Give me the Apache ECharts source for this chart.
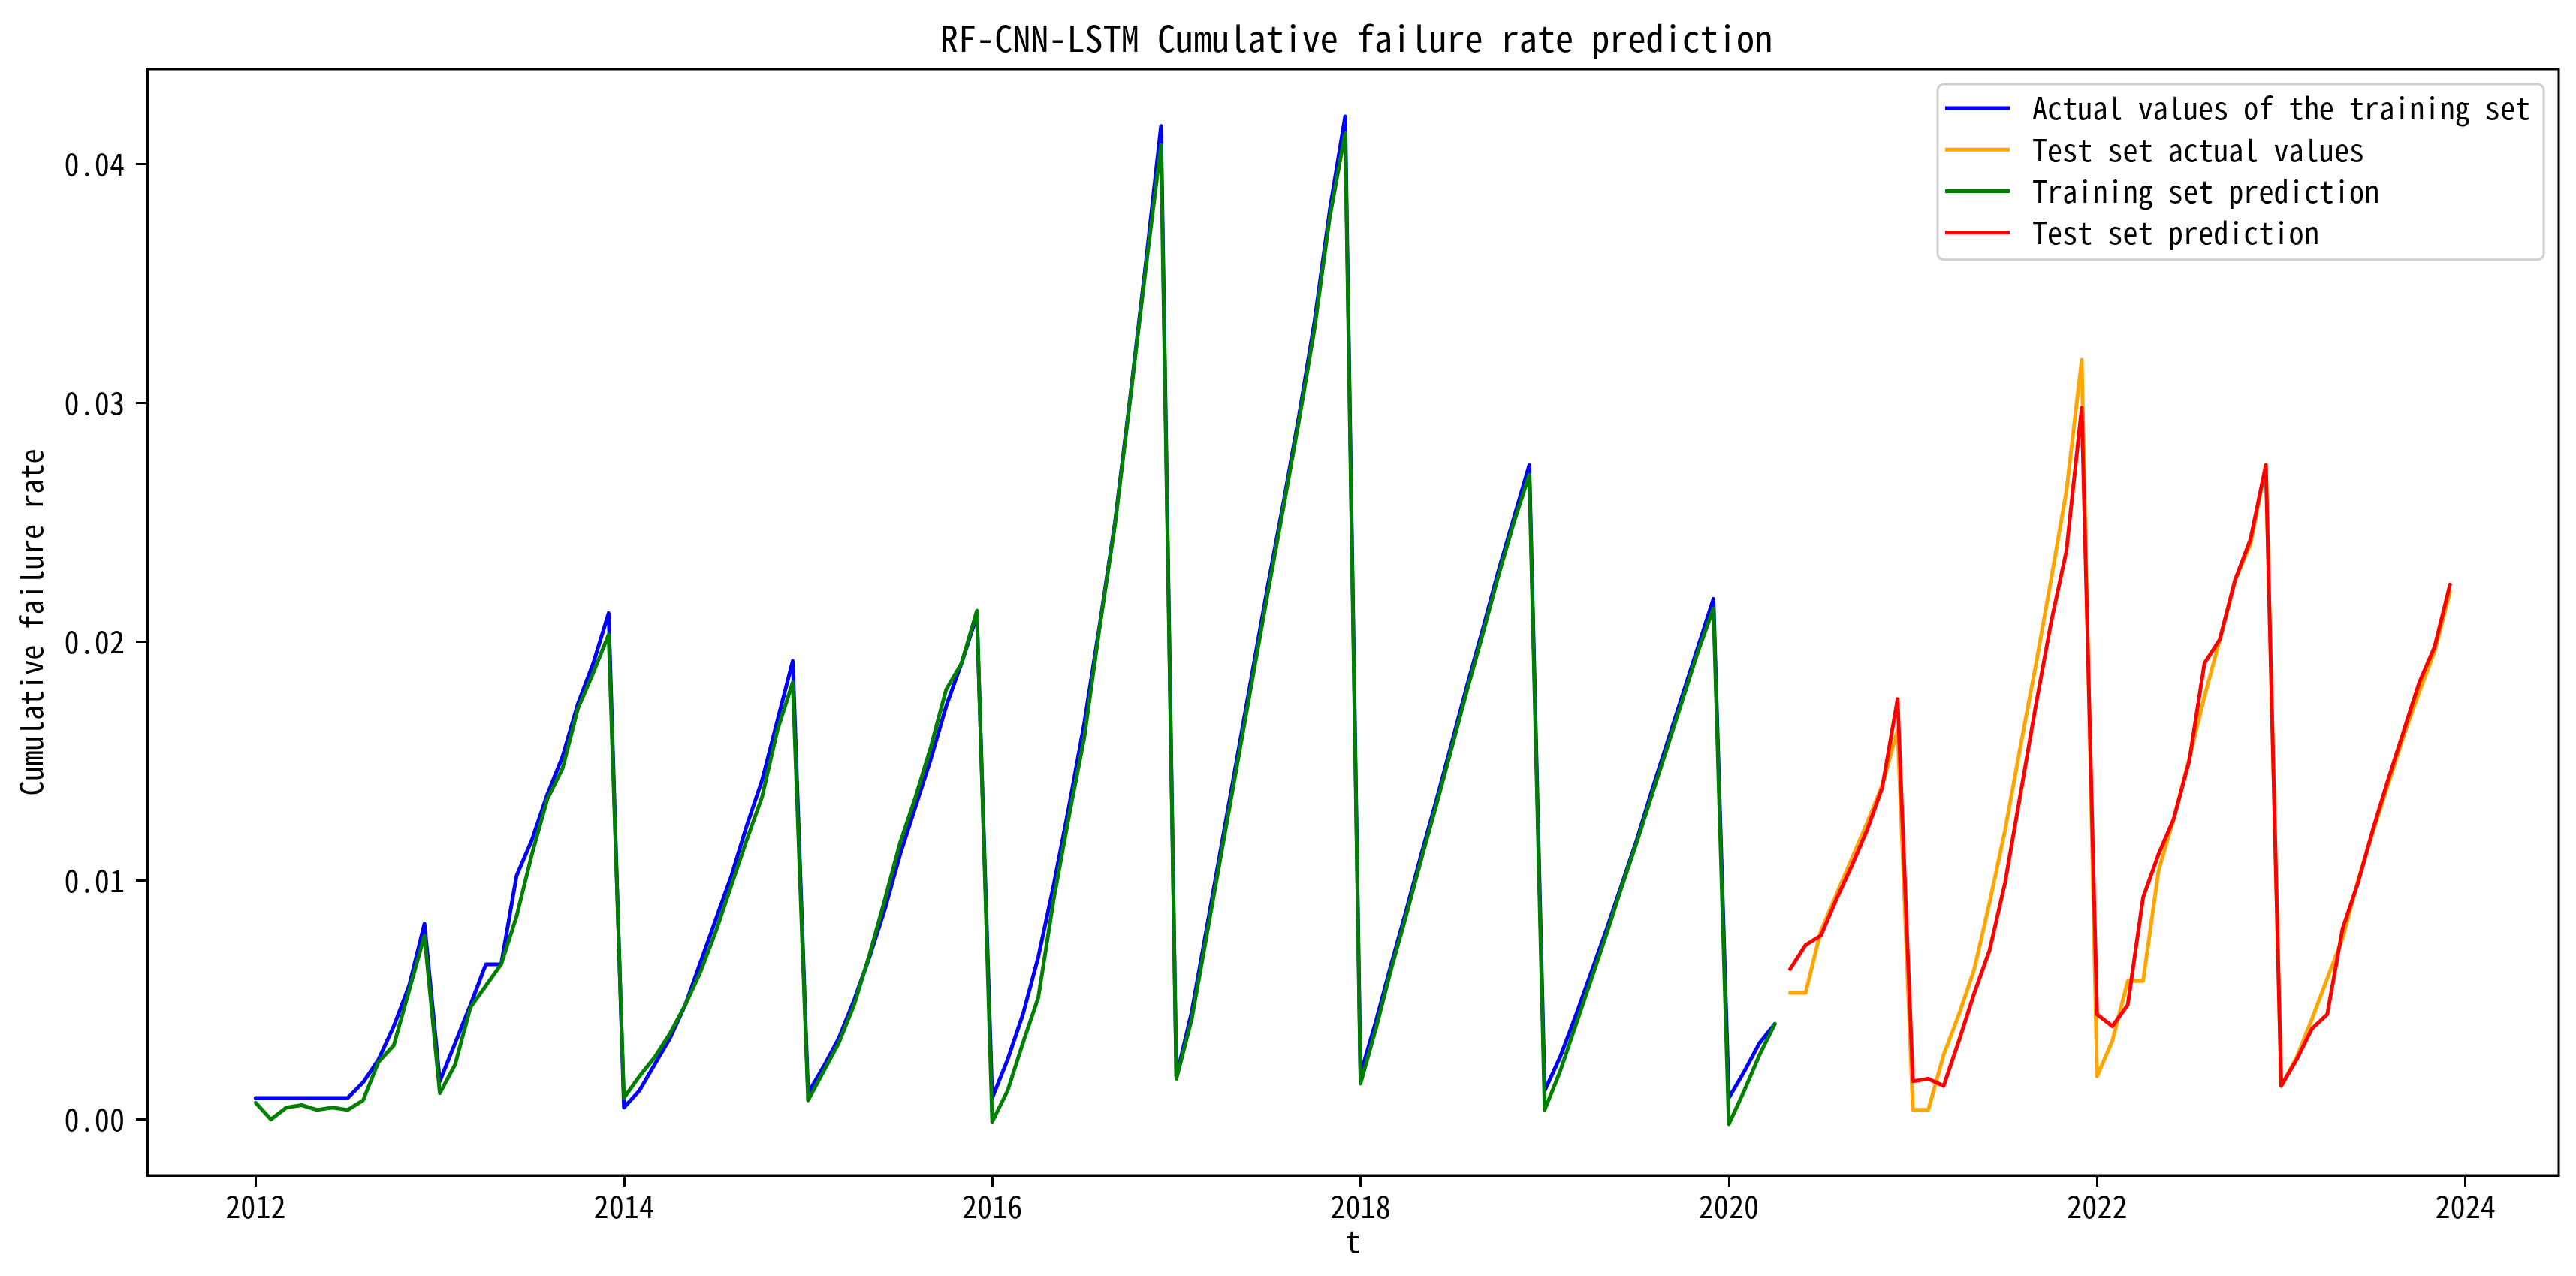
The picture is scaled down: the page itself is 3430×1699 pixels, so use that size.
<!DOCTYPE html>
<html><head><meta charset="utf-8">
<script src="https://cdn.jsdelivr.net/npm/echarts@6/dist/echarts.min.js"></script>
<style>html,body{margin:0;padding:0;background:#fff}#c{width:3430px;height:1699px}</style>
</head><body><div id="c"></div>
<script>
// ---------------- data ----------------
const months = [];
for (let y = 2012; y <= 2023; y++) for (let m = 1; m <= 12; m++) months.push(y + '-' + String(m).padStart(2, '0'));
const trainMonths = months.slice(0, 100);   // 2012-01 .. 2020-04
const testMonths = months.slice(100);       // 2020-05 .. 2023-12

const trainActual = [
  0.0009,0.0009,0.0009,0.0009,0.0009,0.0009,0.0009,0.00155,0.0025,0.0039,0.0056,0.0082,
  0.0016,0.0032,0.0048,0.0065,0.0065,0.0102,0.0117,0.0136,0.0152,0.0174,0.0191,0.0212,
  0.0005,0.0012,0.0023,0.0034,0.0048,0.0066,0.0084,0.0102,0.0123,0.0142,0.0167,0.0192,
  0.0011,0.0022,0.0034,0.0050,0.0068,0.0088,0.0111,0.0131,0.0151,0.0173,0.0191,0.0211,
  0.0009,0.0025,0.0044,0.0068,0.0098,0.0131,0.0166,0.0207,0.0250,0.0303,0.0358,0.0416,
  0.0018,0.0045,0.0081,0.0117,0.0153,0.0189,0.0225,0.0259,0.0295,0.0334,0.0381,0.0420,
  0.0019,0.0041,0.0065,0.0088,0.0112,0.0135,0.0159,0.0183,0.0206,0.0230,0.0252,0.0274,
  0.0012,0.0026,0.0043,0.0061,0.0079,0.0098,0.0117,0.0138,0.0158,0.0178,0.0198,0.0218,
  0.0009,0.0020,0.0032,0.0040
];
const trainPred = [
  0.0007,0.0000,0.0005,0.0006,0.0004,0.0005,0.0004,0.0008,0.0024,0.0031,0.0054,0.0077,
  0.0011,0.0023,0.0047,0.0056,0.0065,0.0085,0.0111,0.0134,0.0147,0.0172,0.0187,0.0203,
  0.0009,0.0018,0.0026,0.0036,0.0048,0.0062,0.0079,0.0098,0.0117,0.0135,0.0163,0.0183,
  0.0008,0.0020,0.0032,0.0048,0.0069,0.0092,0.0116,0.0135,0.0156,0.0180,0.0191,0.0213,
  -0.0001,0.0012,0.0032,0.0051,0.0092,0.0127,0.0160,0.0206,0.0249,0.0302,0.0356,0.0408,
  0.0017,0.0042,0.0078,0.0114,0.0150,0.0186,0.0222,0.0257,0.0293,0.0331,0.0378,0.0413,
  0.0015,0.0038,0.0063,0.0086,0.0110,0.0133,0.0157,0.0181,0.0204,0.0228,0.0250,0.0270,
  0.0004,0.0020,0.0039,0.0058,0.0077,0.0097,0.0116,0.0136,0.0156,0.0176,0.0196,0.0214,
  -0.0002,0.0012,0.0027,0.0040
];
const testActual = [
  0.0053,0.0053,0.0079,0.0094,0.0109,0.0124,0.0140,0.0163,
  0.0004,0.0004,0.0027,0.0044,0.0063,0.0091,0.0121,0.0156,0.0190,0.0226,0.0263,0.0318,
  0.0018,0.0033,0.0058,0.0058,0.0104,0.0126,0.0151,0.0177,0.0201,0.0226,0.0241,0.0274,
  0.0014,0.0026,0.0042,0.0059,0.0076,0.0100,0.0121,0.0141,0.0161,0.0179,0.0196,0.0221
];
const testPred = [
  0.0063,0.0073,0.0077,0.0092,0.0106,0.0121,0.0139,0.0176,
  0.0016,0.0017,0.0014,0.0033,0.0053,0.0071,0.0099,0.0136,0.0173,0.0208,0.0238,0.0298,
  0.0044,0.0039,0.0048,0.0093,0.0111,0.0126,0.0150,0.0191,0.0201,0.0226,0.0243,0.0274,
  0.0014,0.0025,0.0038,0.0044,0.0080,0.0099,0.0122,0.0143,0.0163,0.0183,0.0198,0.0224
];
const xTickLabels = ['2012','2014','2016','2018','2020','2022','2024'];
const yTickLabels = ['0.00','0.01','0.02','0.03','0.04'];
const seriesNames = ['Actual values of the training set','Test set actual values','Training set prediction','Test set prediction'];
const seriesColors = ['#0000ff','#ffa500','#008000','#ff0000'];

// ---------------- font pick ----------------
function measure(font, s){const c=document.createElement('canvas').getContext('2d');c.font=font;return c.measureText(s).width;}
function available(name){
  const s='Actual values of the training set 0.01';
  for (const b of ['monospace','serif','sans-serif']){
    if (Math.abs(measure('40px '+b,s)-measure('40px "'+name+'", '+b,s))>0.5) return true;
  }
  return false;
}
let FONT = 'monospace';
for (const f of ['Noto Sans Mono CJK SC','Noto Sans Mono CJK JP','DejaVu Sans Mono','Liberation Mono']){
  if (available(f)) { FONT = '"'+f+'"'; break; }
}
const ref = 'Actual values of the training set';
const wAt40 = measure('40px '+FONT+', monospace', ref);
const FS = Math.round(40 * 663 / wAt40 * 10) / 10;       // normal text size
const TFS = Math.round(FS * 48 / 40 * 10) / 10;          // title size
const FAM = FONT.replace(/"/g,'') ;

const toYear = s => { const [y, m] = s.split('-').map(Number); return y + (m - 1) / 12; };
const pairs = (ms, vs) => vs.map((v, i) => [toYear(ms[i]), v]);

const chart = echarts.init(document.getElementById('c'), null, {renderer: 'canvas'});
const lineSeries = (name, color, data) => ({
  name, type: 'line', data, symbol: 'none', showSymbol: false,
  lineStyle: {color, width: 5, join: 'round', cap: 'round'}, itemStyle: {color},
  animation: false, emphasis: {disabled: true}
});
chart.setOption({
  animation: false,
  backgroundColor: '#fff',
  title: {
    text: 'RF-CNN-LSTM Cumulative failure rate prediction',
    left: 1801, top: 22, textAlign: 'center',
    textStyle: {fontFamily: FAM, fontSize: TFS, fontWeight: 'normal', color: '#000'}
  },
  grid: {left: 196, right: 23, top: 92, bottom: 134, show: true, borderColor: '#000', borderWidth: 3, backgroundColor: 'transparent'},
  legend: {
    data: seriesNames,
    orient: 'vertical', left: 2580, top: 112,
    icon: 'rect', itemWidth: 86, itemHeight: 5, itemGap: 15,
    padding: [12, 18, 16, 10],
    backgroundColor: '#fff', borderColor: '#d0d0d0', borderWidth: 3, borderRadius: 8,
    textStyle: {fontFamily: FAM, fontSize: FS, color: '#000', lineHeight: 40, padding: [0, 0, 0, 25]},
    selectedMode: false
  },
  xAxis: {
    type: 'value', min: 2011.411, max: 2024.507,
    name: 't', nameLocation: 'middle', nameGap: 68,
    nameTextStyle: {fontFamily: FAM, fontSize: FS, color: '#000'},
    axisLine: {show: true, onZero: false, lineStyle: {color: '#000', width: 3}},
    axisTick: {show: true, length: 15, lineStyle: {color: '#000', width: 3}, customValues: xTickLabels.map(Number)},
    axisLabel: {show: true, margin: 22, color: '#000', fontFamily: FAM, fontSize: FS, customValues: xTickLabels.map(Number), formatter: v => String(Math.round(v))},
    splitLine: {show: false}
  },
  yAxis: {
    type: 'value', min: -0.00234, max: 0.04398,
    name: 'Cumulative failure rate', nameLocation: 'middle', nameGap: 134, nameRotate: 90,
    nameTextStyle: {fontFamily: FAM, fontSize: FS, color: '#000'},
    axisLine: {show: true, onZero: false, lineStyle: {color: '#000', width: 3}},
    axisTick: {show: true, length: 15, lineStyle: {color: '#000', width: 3}, customValues: yTickLabels.map(Number)},
    axisLabel: {show: true, margin: 30, color: '#000', fontFamily: FAM, fontSize: FS, customValues: yTickLabels.map(Number), formatter: v => v.toFixed(2)},
    splitLine: {show: false}
  },
  series: [
    lineSeries(seriesNames[0], seriesColors[0], pairs(trainMonths, trainActual)),
    lineSeries(seriesNames[1], seriesColors[1], pairs(testMonths, testActual)),
    lineSeries(seriesNames[2], seriesColors[2], pairs(trainMonths, trainPred)),
    lineSeries(seriesNames[3], seriesColors[3], pairs(testMonths, testPred))
  ]
});
</script></body></html>
